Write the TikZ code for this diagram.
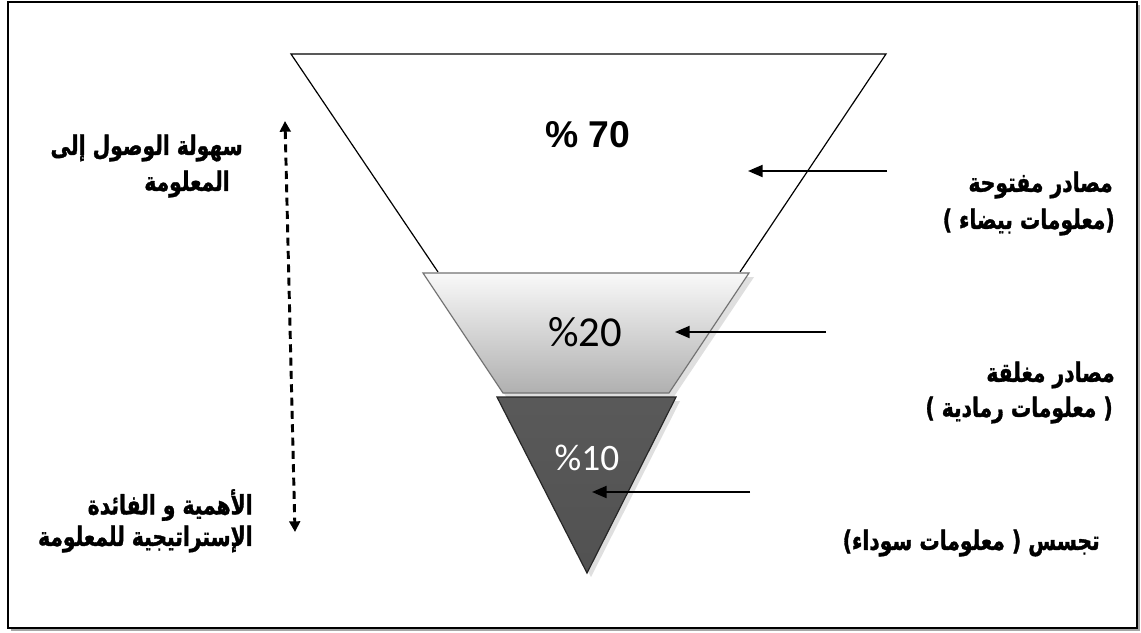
\documentclass[tikz,border=0pt]{standalone}
\usepackage{fontspec}
\setmainfont{Liberation Sans}
\newfontfamily\arabicfont[Script=Arabic, FakeStretch=0.76, BoldFeatures={FakeBold=1.2}]{DejaVu Sans}
\newfontfamily\calibfont{Carlito}
\TeXXeTstate=1
\usetikzlibrary{arrows.meta}
\tikzset{
  ar/.style={font=\arabicfont\bfseries\fontsize{20}{23}\selectfont, inner sep=0pt},
  pointer/.style={line width=1.6pt, -{Triangle[length=11pt,width=9pt]}},
  funnelline/.style={line width=0.9pt},
}
\begin{document}
\begin{tikzpicture}[x=0.75pt,y=-0.75pt]
\useasboundingbox (0,0) rectangle (1141,632);
% frame with shadow
\fill[gray!70] (11,5) rectangle (1140,631);
\draw[line width=1.2pt, fill=white] (8,2) rectangle (1137,628);

% big top triangle (open funnel)
\coordinate (tl) at (291,54);
\coordinate (tr) at (886,54);
\coordinate (bl) at (438,272);
\coordinate (br) at (740,272);
\draw[funnelline] (bl) -- (tl) -- (tr) -- (br);

% middle trapezoid shadow + shape
\fill[gray!25] (427,277) -- (754,277) -- (673,398) -- (507,398) -- cycle;
\shade[top color=gray!5, bottom color=gray!62, draw=gray!90!black, line width=0.9pt]
  (423,273) -- (749,273) -- (669,393) -- (503,393) -- cycle;

% bottom triangle shadow + shape
\fill[gray!25] (501,401) -- (680,401) -- (591,577) -- cycle;
\shade[top color=black!65, middle color=black, bottom color=black!68, draw=black!85, line width=0.9pt]
  (497,397) -- (676,397) -- (587,573) -- cycle;

% percentages
\node[font=\bfseries\fontsize{28}{31}\selectfont] (p70) at (588,135) {\% 70};
\node[font=\calibfont\fontsize{32}{36}\selectfont] (p20) at (585,332) {\%20};
\node[font=\calibfont\fontsize{28}{32}\selectfont, text=white] (p10) at (587,458) {\%10};

% pointer arrows
\coordinate (a1s) at (887,171);
\coordinate (a1e) at (748,171);
\coordinate (a2s) at (826,332);
\coordinate (a2e) at (675,332);
\coordinate (a3s) at (750,492);
\coordinate (a3e) at (592,492);
\draw[pointer] (a1s) -- (a1e);
\draw[pointer] (a2s) -- (a2e);
\draw[pointer] (a3s) -- (a3e);

% dashed double arrow
\coordinate (dtop) at (285,121);
\coordinate (dbot) at (295,532);
\draw[line width=2.2pt, dash pattern=on 6pt off 4pt,
  {Triangle[length=8pt,width=8pt]}-{Triangle[length=8pt,width=8pt]}] (dtop) -- (dbot);

% left texts
\node[ar, anchor=east] (l1) at (243,148) {\beginR سهولة الوصول إلى\endR};
\node[ar, anchor=east] (l2) at (230,184) {\beginR المعلومة\endR};
\node[ar, anchor=east] (l3) at (253,505) {\beginR الأهمية و الفائدة\endR};
\node[ar, anchor=east] (l4) at (253,539) {\beginR الإستراتيجية للمعلومة\endR};

% right texts
\node[ar, anchor=east] (r1) at (1113,185) {\beginR مصادر مفتوحة\endR};
\node[ar, anchor=east] (r2) at (1115,222) {\beginR (معلومات بيضاء )\endR};
\node[ar, anchor=east] (r3) at (1115,375) {\beginR مصادر مغلقة\endR};
\node[ar, anchor=east] (r4) at (1113,410) {\beginR ( معلومات رمادية )\endR};
\node[ar, anchor=east] (r5) at (1100,543) {\beginR تجسس ( معلومات سوداء)\endR};
\end{tikzpicture}
\end{document}
